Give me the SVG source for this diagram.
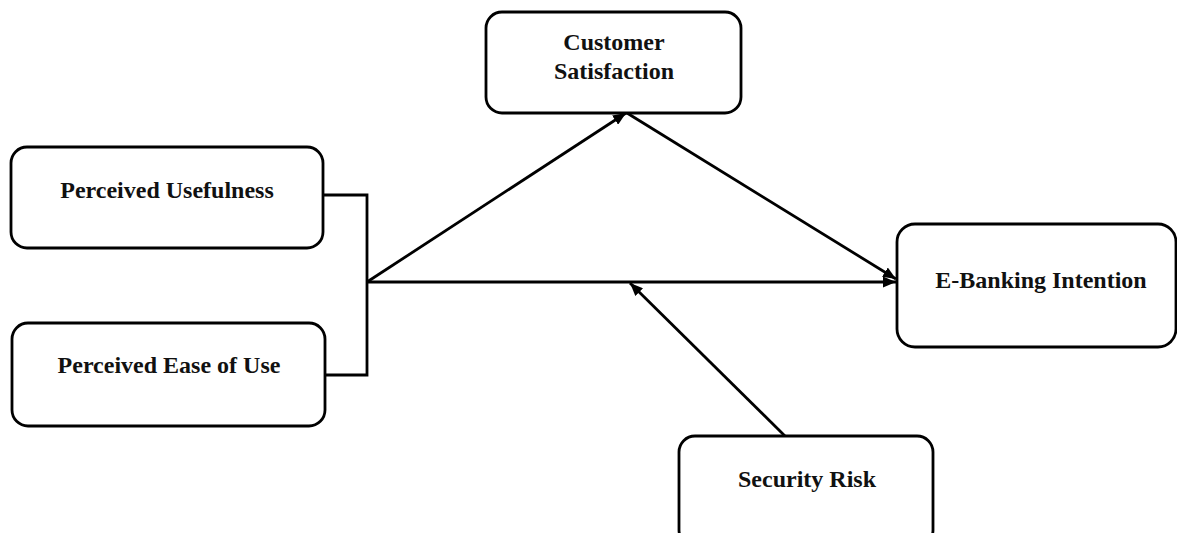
<svg xmlns="http://www.w3.org/2000/svg" width="1177" height="533" viewBox="0 0 1177 533">
<defs>
<style>
.box{fill:#fff;stroke:#000;stroke-width:2.8}
.lbl{font-family:"Liberation Serif","Times New Roman",serif;font-weight:bold;font-size:24px;fill:#111;text-anchor:middle}
.con{fill:none;stroke:#000;stroke-width:2.8}
</style>
<marker id="ah" viewBox="0 0 13 11" refX="13" refY="5.5" markerWidth="13" markerHeight="11" markerUnits="userSpaceOnUse" orient="auto">
<path d="M0,0 L13,5.5 L0,11 Z" fill="#000"/>
</marker>
</defs>
<rect width="1177" height="533" fill="#fff"/>
<g id="connectors">
<path class="con" d="M323,195 H367 V375 H325"/>
<line class="con" x1="367" y1="282" x2="896" y2="282" marker-end="url(#ah)"/>
<line class="con" x1="367" y1="282" x2="626" y2="113" marker-end="url(#ah)"/>
<line class="con" x1="627" y1="113" x2="896" y2="279" marker-end="url(#ah)"/>
<line class="con" x1="785" y1="436" x2="630" y2="283" marker-end="url(#ah)"/>
</g>
<g id="node-pu">
<rect class="box" x="11" y="147" width="312" height="101" rx="16"/>
<text class="lbl" x="167" y="198">Perceived Usefulness</text>
</g>
<g id="node-peou">
<rect class="box" x="12" y="323" width="313" height="103" rx="16"/>
<text class="lbl" x="169" y="373">Perceived Ease of Use</text>
</g>
<g id="node-cs">
<rect class="box" x="486" y="12" width="255" height="101" rx="16"/>
<text class="lbl" x="614" y="50">Customer</text>
<text class="lbl" x="614" y="79">Satisfaction</text>
</g>
<g id="node-eb">
<rect class="box" x="897" y="224" width="279" height="123" rx="18"/>
<text class="lbl" x="1041" y="288">E-Banking Intention</text>
</g>
<g id="node-sr">
<rect class="box" x="679" y="436" width="254" height="110" rx="16"/>
<text class="lbl" x="807" y="487">Security Risk</text>
</g>
</svg>
